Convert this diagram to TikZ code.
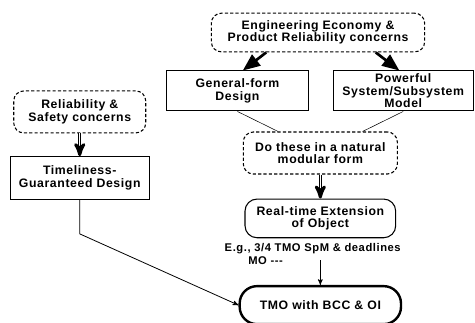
\documentclass[tikz,border=0pt]{standalone}
\usepackage{fontspec}
\setmainfont[LetterSpace=5]{Liberation Sans}
\usetikzlibrary{arrows,shapes,positioning,calc}
\tikzset{
	concern/.style={
		rectangle,
		rounded corners=7.5pt,
		draw,
		line width=0.8pt,
		dash pattern=on 2.4pt off 1.6pt,
		inner sep=0pt,
		align=center,
	},
	design/.style={
		rectangle,
		draw,
		line width=0.8pt,
		minimum width=106pt,
		minimum height=30pt,
		inner sep=0pt,
		align=center,
	},
	extension/.style={
		rectangle,
		rounded corners=9pt,
		draw,
		line width=0.8pt,
		inner sep=0pt,
		align=center,
	},
	goal/.style={
		rectangle,
		rounded corners=13pt,
		draw,
		line width=1.8pt,
		inner sep=0pt,
		align=center,
	},
	arc/.style={
		-stealth',
		line width=0.6pt,
	},
	bigarc/.style={
		-triangle 45,
		line width=2pt,
	},
	dblarc/.style={
		-stealth',
		double=white,
		double distance=1pt,
		line width=0.6pt,
	},
}

\begin{document}
\begin{tikzpicture}[node distance=15pt and 18pt,font=\bfseries\fontsize{9.2}{9.4}\selectfont]
	\useasboundingbox (0,0) rectangle (356.25pt,-241.5pt);
	\node [
	  concern,
	  minimum width=160pt,
	  minimum height=29pt
	] (econ) at (238.5pt,-24.4pt) {Engineering Economy \&\\Product Reliability concerns};
	\node [
	  design,
	  below=13.5pt of econ,
	  xshift=-60.4pt
	] (genform) {General-form\\Design};
	\node [
	  design,
	  minimum width=105pt,
	  right=18pt of genform
	] (model) {Powerful\\System/Subsystem\\Model};
	\node [
	  concern,
	  minimum width=99pt,
	  minimum height=31.5pt,
	  left=15pt of genform,
	  yshift=-15.75pt
	] (safety) {Reliability \&\\Safety concerns};
	\node [
	  design,
	  minimum width=104pt,
	  minimum height=32pt,
	  below=17pt of safety
	] (timely) {Timeliness-\\Guaranteed Design};
	\node [
	  concern,
	  minimum width=115.5pt,
	  minimum height=31.5pt,
	  below=15pt of {$(genform.south)!.5!(model.south)$}
	] (modular) {Do these in a natural\\modular form};
	\node [
	  extension,
	  minimum width=113pt,
	  minimum height=29pt,
	  below=18pt of modular
	] (rtext) {Real-time Extension\\of Object};
	\node [
	  below=4pt of rtext.south west,
	  anchor=north west,
	  xshift=-15pt,
	  align=left,
	  inner sep=0pt,
	  font=\bfseries\fontsize{8.4}{9.6}\selectfont
	] (eg) {E.g., 3/4 TMO SpM \& deadlines\\\hspace{2.1em}MO -{}-{}-};
	\node [
	  goal,
	  minimum width=121pt,
	  minimum height=28.5pt,
	  below=35pt of rtext
	] (tmo) {TMO with BCC \& OI};

	\draw[bigarc] (econ.201) -- (genform.75);
	\draw[bigarc] (econ.-19) -- (model.101);
	\draw (genform.south) -- (modular.153);
	\draw (model.south) -- (modular.27);
	\draw[dblarc] (safety) -- (timely);
	\draw[dblarc] (modular) -- (rtext);
	\draw[arc] ([yshift=-16.5pt]rtext.south) -- (tmo);
	\draw[arc] (timely.south) -- ++(0,-25.5pt) -- (tmo.west);
\end{tikzpicture}
\end{document}
